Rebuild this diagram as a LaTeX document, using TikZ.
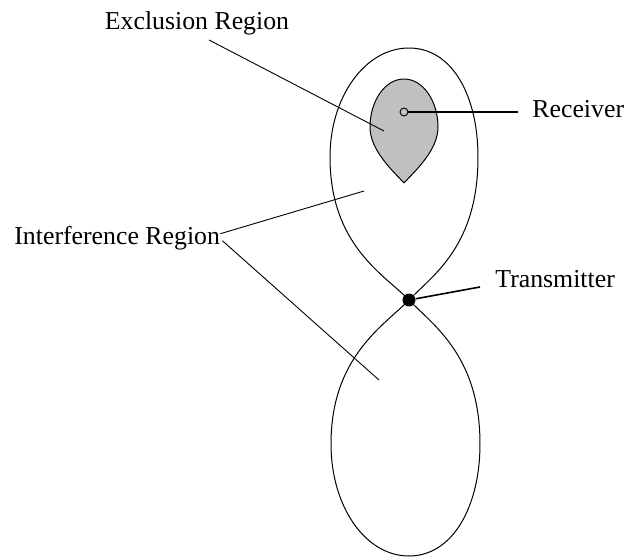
\documentclass[tikz,border=0pt]{standalone}
\usepackage{fontspec}
\setmainfont{Liberation Serif}
\usepackage{tikz}
\usetikzlibrary{positioning}

\definecolor{exclgray}{RGB}{192,192,192}

\tikzset{
	lobe/.style={draw,line width=0.5pt},
	pointer/.style={draw,line width=0.45pt},
	label/.style={inner sep=0pt,font=\fontsize{12.9}{15}\selectfont}
}

\begin{document}
\begin{tikzpicture}[x=0.5pt,y=-0.5pt]
\useasboundingbox (0,0) rectangle (628,558);

\draw[lobe] (409,300) .. controls (385,275) and (330,246) .. (330,157)
	.. controls (330,97) and (365,48) .. (409,48)
	.. controls (453,48) and (478,97) .. (478,157)
	.. controls (478,246) and (433,275) .. (409,300);

\draw[lobe] (409,300) .. controls (385,325) and (331,356) .. (331,444)
	.. controls (331,506) and (365,556) .. (409,556)
	.. controls (453,556) and (480,506) .. (480,444)
	.. controls (480,356) and (433,325) .. (409,300);

\filldraw[lobe,fill=exclgray] (404,183) .. controls (392,170) and (370,150) .. (370,127)
	.. controls (370,101) and (385,79) .. (404,79)
	.. controls (423,79) and (438,101) .. (438,127)
	.. controls (438,150) and (416,170) .. (404,183);

\node[circle,draw,fill=exclgray,inner sep=0pt,minimum size=4pt,line width=0.45pt] (rx) at (404,112) {};
\node[circle,fill=black,inner sep=0pt,minimum size=6.5pt] (tx) at (409,300) {};

\node[label,anchor=base] (exlabel) at (197,29) {Exclusion Region};
\node[label,anchor=base west] (iflabel) at (14,244) {Interference Region};
\node[label,anchor=base west] (rxlabel) at (532,117) {Receiver};
\node[label,anchor=base west] (txlabel) at (495,287) {Transmitter};

\coordinate (exend) at (384,131);
\coordinate (ifupend) at (364,191);
\coordinate (iflowend) at (379,380);
\coordinate (rxend) at (518,112);
\coordinate (txend) at (480,287);

\draw[pointer] ([xshift=6pt,yshift=-2.5pt]exlabel.south) -- (exend);
\draw[pointer] ([yshift=2pt]iflabel.east) -- (ifupend);
\draw[pointer] ([xshift=1pt,yshift=-1.5pt]iflabel.east) -- (iflowend);
\draw[line width=1pt] (rx.east) -- (rxend);
\draw[line width=0.8pt] (tx) -- (txend);
\end{tikzpicture}
\end{document}
